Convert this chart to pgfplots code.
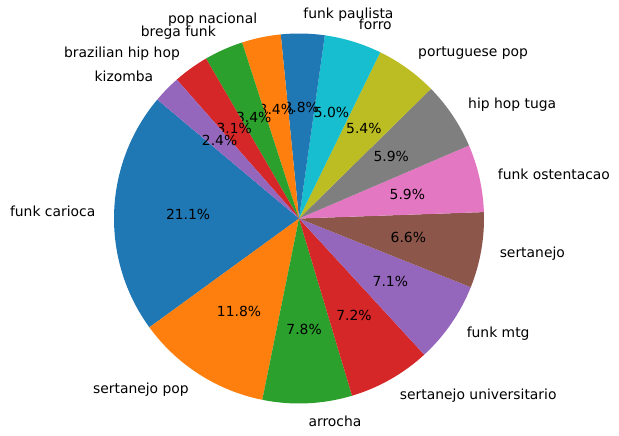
\documentclass[border=0pt]{standalone}
\usepackage{pgfplots}
\pgfplotsset{compat=1.18}
\usepackage{fontspec}
\setmainfont{DejaVu Sans}

\definecolor{C0}{HTML}{1F77B4}
\definecolor{C1}{HTML}{FF7F0E}
\definecolor{C2}{HTML}{2CA02C}
\definecolor{C3}{HTML}{D62728}
\definecolor{C4}{HTML}{9467BD}
\definecolor{C5}{HTML}{8C564B}
\definecolor{C6}{HTML}{E377C2}
\definecolor{C7}{HTML}{7F7F7F}
\definecolor{C8}{HTML}{BCBD22}
\definecolor{C9}{HTML}{17BECF}

% share (percent) / colour / genre, counterclockwise from 140 degrees
\newcommand\piedata{21.1/C0/funk carioca, 11.8/C1/sertanejo pop, 7.8/C2/arrocha,
  7.2/C3/sertanejo universitario, 7.1/C4/funk mtg, 6.6/C5/sertanejo,
  5.9/C6/funk ostentacao, 5.9/C7/hip hop tuga, 5.4/C8/portuguese pop,
  5.0/C9/forro, 3.8/C0/funk paulista, 3.4/C1/pop nacional, 3.4/C2/brega funk,
  3.1/C3/brazilian hip hop, 2.4/C4/kizomba}
\newcommand\pietotal{99.9}
\newcommand\pieR{133.2pt}

\begin{document}
\begin{tikzpicture}
\begin{axis}[
    scale only axis,
    width=445.68pt, height=313.2pt,
    xmin=-1.6162, xmax=1.7297,
    ymin=-1.1703, ymax=1.1811,
    hide axis, clip=false,
]
\path (rel axis cs:0,0) rectangle (rel axis cs:1,1);
\xdef\cumang{140}
\foreach \v/\c/\l in \piedata {
  \pgfmathsetmacro\aa{\cumang}
  \pgfmathsetmacro\bb{\cumang+\v/\pietotal*360}
  \pgfmathsetmacro\mm{(\aa+\bb)/2}
  \pgfmathsetmacro\cx{cos(\mm)}
  \pgfmathsetmacro\sy{sin(\mm)}
  \pgfmathsetmacro\ca{cos(\aa)}
  \pgfmathsetmacro\sa{sin(\aa)}
  \ifdim\cx pt>0pt \def\anc{west}\else\def\anc{east}\fi
  \edef\temp{\noexpand\fill[\c] (axis cs:0,0) -- (axis cs:\ca,\sa)
      arc[start angle=\aa, end angle=\bb, radius=\pieR] -- cycle;
    \noexpand\node[inner sep=0pt, anchor=\anc] at (axis cs:{1.1*\cx},{1.1*\sy}) {\l};
    \noexpand\node[inner sep=0pt] at (axis cs:{0.6*\cx},{0.6*\sy}) {\v\noexpand\%};}
  \temp
  \xdef\cumang{\bb}
}
\end{axis}
\end{tikzpicture}
\end{document}
